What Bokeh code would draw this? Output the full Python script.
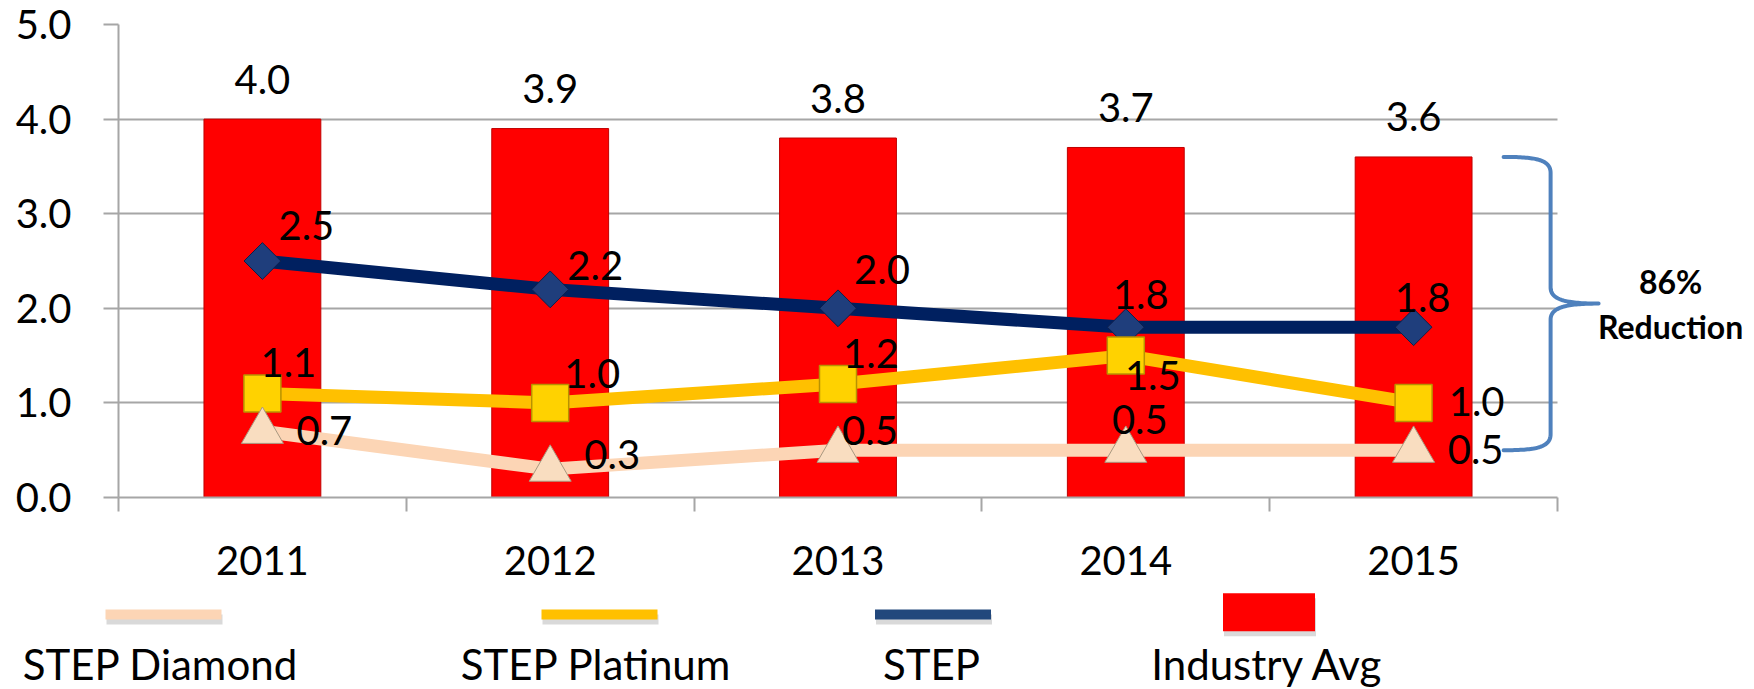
import numpy as np
from bokeh.plotting import figure
from bokeh.models import Range1d, FixedTicker, BoxAnnotation, ColumnDataSource, NumeralTickFormatter
from bokeh.layouts import column
from bokeh.embed import file_html
from bokeh.resources import INLINE
from bokeh.core.properties import value

# ---------------- data ----------------
years = ["2011", "2012", "2013", "2014", "2015"]
industry_avg = [4.0, 3.9, 3.8, 3.7, 3.6]
step = [2.5, 2.2, 2.0, 1.8, 1.8]
step_platinum = [1.1, 1.0, 1.2, 1.5, 1.0]
step_diamond = [0.7, 0.3, 0.5, 0.5, 0.5]
y_ticks = [0, 1, 2, 3, 4, 5]
series_names = ["STEP Diamond", "STEP Platinum", "STEP", "Industry Avg"]
reduction_text = ["86%", "Reduction"]

# ---------------- layout / style ----------------
FONT = "Lato"
W = 1754
MAIN_H = 590
LEG_H = 99
BL, BT = 118, 24
frame_h = 473
BB = MAIN_H - BT - frame_h
frame_w = W - BL
cat_px = 287.8
x_start = -0.5
x_end = x_start + frame_w / cat_px
ky = frame_h / 5.0
GRID = "#A6A6A6"
RED = "#FF0000"
NAVY = "#002060"
GOLD = "#FFC000"
PEACH = "#FCD5B5"
BLUE = "#4F81BD"
SHIFT = -17  # baseline correction for 40px text

xs = list(range(len(years)))

p = figure(width=W, height=MAIN_H, x_range=Range1d(x_start, x_end), y_range=Range1d(0, 5),
           output_backend="svg", toolbar_location=None, frame_align=False,
           min_border_left=BL, min_border_right=0, min_border_top=BT, min_border_bottom=BB,
           outline_line_color=None, background_fill_color="white", border_fill_color="white")

# grid
p.xgrid.visible = False
p.ygrid.ticker = FixedTicker(ticks=y_ticks)
p.ygrid.grid_line_color = GRID
p.ygrid.grid_line_width = 2

# y axis
ya = p.yaxis[0]
ya.ticker = FixedTicker(ticks=y_ticks, minor_ticks=[])
ya.formatter = NumeralTickFormatter(format="0.0")
ya.axis_line_color = GRID
ya.axis_line_width = 2
ya.major_tick_line_color = GRID
ya.major_tick_line_width = 2
ya.major_tick_out = 15
ya.major_tick_in = 0
ya.minor_tick_line_color = None
ya.major_label_text_font = FONT
ya.major_label_text_font_size = "40px"
ya.major_label_text_color = "black"
ya.major_label_standoff = 32

# x axis (labels at centers, ticks at boundaries via minor ticks)
xa = p.xaxis[0]
xa.ticker = FixedTicker(ticks=xs, minor_ticks=[i - 0.5 for i in range(len(years) + 1)])
xa.major_label_overrides = {i: y for i, y in zip(xs, years)}
xa.bounds = (-0.5, len(years) - 0.5)
xa.axis_line_color = GRID
xa.axis_line_width = 2
xa.major_tick_line_color = None
xa.major_tick_out = 0
xa.major_tick_in = 0
xa.minor_tick_line_color = GRID
xa.minor_tick_line_width = 2
xa.minor_tick_out = 14
xa.minor_tick_in = 0
xa.major_label_text_font = FONT
xa.major_label_text_font_size = "40px"
xa.major_label_text_color = "black"
xa.major_label_standoff = 34

# white cover so gridlines stop at the plot area edge
p.add_layout(BoxAnnotation(left=len(years) - 0.5, fill_color="white", fill_alpha=1.0,
                           line_color=None, level="underlay"))

# bars
p.vbar(x=xs, top=industry_avg, width=0.406, fill_color=RED, line_color="#C00000", line_width=1)

# lines + markers (drawing order: STEP, Platinum, Diamond)
p.line(xs, step, line_color=NAVY, line_width=13)
p.scatter(xs, step, marker="square", angle=np.pi / 4, size=26,
          fill_color="#1F3E7C", line_color="#0D1F4A", line_width=1)
p.line(xs, step_platinum, line_color=GOLD, line_width=13)
p.scatter(xs, step_platinum, marker="square", size=37,
          fill_color="#FFD200", line_color="#B89200", line_width=1.5)
p.line(xs, step_diamond, line_color=PEACH, line_width=13)
p.scatter(xs, step_diamond, marker="triangle", size=42,
          fill_color="#F9DDC0", line_color="#A89880", line_width=1)

# data labels
def lab(vals, dx, dy):
    src = ColumnDataSource(dict(x=xs, y=vals, t=[f"{v:.1f}" for v in vals], dx=dx,
                                dy=[d + SHIFT for d in dy]))
    p.text(x="x", y="y", text="t", x_offset="dx", y_offset="dy", source=src,
           text_font=value(FONT), text_font_size="40px", text_color="black",
           text_align="center", text_baseline="alphabetic")

lab(industry_avg, [0] * 5, [-23] * 5)
lab(step, [44, 45, 44, 15, 9], [-19, -7, -22, -16, -13])
lab(step_platinum, [26, 42, 33, 27, 63], [-14, -12, -13, 37, 16])
lab(step_diamond, [62, 62, 32, 14, 62], [16, 2, -3, -14, 16])

# brace spanning Industry Avg (last) down to STEP Diamond (last)
def bez(p0, c1, c2, p1, n=40):
    t = np.linspace(0, 1, n)[:, None]
    p0, c1, c2, p1 = map(np.asarray, (p0, c1, c2, p1))
    return ((1 - t) ** 3) * p0 + 3 * ((1 - t) ** 2) * t * c1 + 3 * (1 - t) * t ** 2 * c2 + t ** 3 * p1

yt = industry_avg[-1] * ky
yb = step_diamond[-1] * ky
ym = (yt + yb) / 2
xa_, xv, xt = 90, 137, 185
pts = np.vstack([
    bez((xa_, yt), (xa_ + 30, yt), (xv, yt - 2), (xv, yt - 16)),
    bez((xv, ym + 16), (xv, ym + 3), (xv + 18, ym), (xt, ym)),
    bez((xt, ym), (xv + 18, ym), (xv, ym - 3), (xv, ym - 16)),
    bez((xv, yb + 16), (xv, yb + 2), (xa_ + 30, yb), (xa_, yb)),
])
last = xs[-1]
p.line(last + pts[:, 0] / cat_px, pts[:, 1] / ky, line_color=BLUE, line_width=4,
       line_join="round", line_cap="round")
p.text(x=[last + xt / cat_px] * 2, y=[ym / ky] * 2, text=reduction_text,
       x_offset=72, y_offset=[-10 - 12, 35 - 12], text_font=value(FONT), text_font_size="32px",
       text_font_style="bold", text_color="black", text_align="center",
       text_baseline="alphabetic")

# ---------------- legend (separate strip, page-pixel coordinates) ----------------
TOT = MAIN_H + LEG_H
leg = figure(width=W, height=LEG_H, x_range=Range1d(0, W), y_range=Range1d(0, LEG_H),
             output_backend="svg", toolbar_location=None, x_axis_type=None, y_axis_type=None,
             frame_align=False, frame_width=W, frame_height=LEG_H,
             min_border_left=0, min_border_right=0, min_border_top=0, min_border_bottom=0,
             outline_line_color=None, background_fill_color="white", border_fill_color="white")
leg.grid.visible = False

leg_sw_cx = [163, 599, 932.5, 1268.5]
leg_sw_w = [116, 116, 116, 92]
leg_sw_cy = [614, 614, 614, 611.7]
leg_sw_h = [10, 10, 10, 38]
leg_col = [PEACH, GOLD, "#22487C", RED]
leg_txt_cx = [160, 595.6, 931, 1267]

leg.rect(x=[c + 1 for c in leg_sw_cx], y=[TOT - (c + 5) for c in leg_sw_cy], width=leg_sw_w,
         height=leg_sw_h, fill_color="#808080", fill_alpha=0.3, line_color=None)
leg.rect(x=leg_sw_cx, y=[TOT - c for c in leg_sw_cy], width=leg_sw_w, height=leg_sw_h,
         fill_color=leg_col, line_color=None)
leg.text(x=leg_txt_cx, y=[TOT - 680] * 4, text=series_names, y_offset=-17,
         text_font=value(FONT), text_font_size="42px", text_color="black",
         text_align="center", text_baseline="alphabetic")

lay = column(p, leg, spacing=0)
open("out.html", "w").write(file_html(lay, INLINE))
